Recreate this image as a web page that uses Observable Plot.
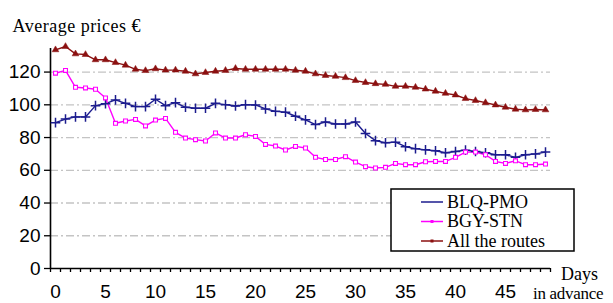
<!DOCTYPE html>
<html><head><meta charset="utf-8">
<script src="https://cdn.jsdelivr.net/npm/d3@7"></script>
<script src="https://cdn.jsdelivr.net/npm/@observablehq/plot@0.6"></script>
<style>
body{margin:0;background:#fff;}
#wrap{position:relative;width:613px;height:303px;overflow:hidden;background:#fff;}
#wrap svg{position:absolute;left:0;top:0;}
</style></head><body><div id="wrap"></div>
<script>
const days = [0,1,2,3,4,5,6,7,8,9,10,11,12,13,14,15,16,17,18,19,20,21,22,23,24,25,26,27,28,29,30,31,32,33,34,35,36,37,38,39,40,41,42,43,44,45,46,47,48,49];
const blqPmo = [89.1,91.3,92.6,92.6,99.5,100.7,103,100.9,98.9,98.9,103.4,99.5,101.3,98.5,97.9,97.9,100.9,100.1,99.3,100.1,99.9,97.5,96,95.5,93,90.8,87.9,89.5,88.3,88.3,89.5,82.5,78.1,76.8,77.2,74.4,73.2,72.5,71.9,70.7,71.5,72.3,71.5,70.7,69.5,69.5,67.9,69.5,70,71.1];
const bgyStn = [119.3,121,110.7,110.3,109.5,104.2,88.7,90.1,91.1,87.1,90.7,91.7,83.2,79.7,78.7,77.9,82.8,79.7,79.7,81.7,80.7,75.8,74.8,72.4,74.6,73.6,67.9,66.6,66.6,68.3,65,62.2,61.4,61.8,64.2,63.4,63.4,65.2,65.4,65.4,67.9,71.1,71.1,69.5,65.4,64.2,65.8,63.4,63.4,63.8];
const allRoutes = [133.6,135.6,131.1,130.7,127.5,127.5,125.8,124.2,121.7,120.9,122,121.2,121.2,120.5,118.9,119.7,120.5,121,122.2,121.7,121.7,121.7,121.7,121.7,121.1,120.5,118.9,117.9,117.4,116.6,114.8,113.6,112.9,112.5,111.3,111.3,110.7,109.6,108.3,107,106,103.8,102.6,101.3,99.9,98.5,97.3,96.9,97.1,96.9];
const seriesNames = ["BLQ-PMO","BGY-STN","All the routes"];
const seriesColors = ["#1c1c8e","#ff00ff","#8b1010"];
const yTickValues = [0,20,40,60,80,100,120];
const gridValues = [20,40,60,80,100,120];
const xLabelValues = [0,5,10,15,20,25,30,35,40,45];
const xBoundaryValues = [-0.5,0.5,1.5,2.5,3.5,4.5,5.5,6.5,7.5,8.5,9.5,10.5,11.5,12.5,13.5,14.5,15.5,16.5,17.5,18.5,19.5,20.5,21.5,22.5,23.5,24.5,25.5,26.5,27.5,28.5,29.5,30.5,31.5,32.5,33.5,34.5,35.5,36.5,37.5,38.5,39.5,40.5,41.5,42.5,43.5,44.5,45.5,46.5,47.5,48.5,49.5];
const titleText = "Average prices €";
const xTitle1 = "Days";
const xTitle2 = "in advance";

const seriesValues = [blqPmo, bgyStn, allRoutes];
const rows = [];
seriesNames.forEach((name, si) => seriesValues[si].forEach((v, i) => rows.push({day: days[i], price: v, series: name})));
const bySeries = name => rows.filter(r => r.series === name);

const chart = Plot.plot({
  width: 613, height: 303,
  marginLeft: 50, marginRight: 63, marginTop: 48, marginBottom: 35,
  x: {domain: [-0.5, 49.5], axis: null},
  y: {domain: [0, 134.4], axis: null},
  color: {domain: seriesNames, range: seriesColors},
  style: {fontFamily: "'Liberation Sans', Arial, sans-serif", fontSize: "19px", color: "#000", background: "transparent"},
  marks: [
    Plot.ruleY(gridValues, {stroke: "#c4c4c4", strokeWidth: 1.3, strokeDasharray: "8,3,2,3"}),
    Plot.axisY({ticks: yTickValues, tickSize: 6, tickPadding: 4, fontSize: 19, stroke: "#000", strokeWidth: 1.3, label: null}),
    Plot.axisX({ticks: xBoundaryValues, tickSize: 4, tickFormat: () => "", stroke: "#000", strokeWidth: 1.3, label: null}),
    Plot.axisX({ticks: xLabelValues, tickSize: 0, tickPadding: 16, fontSize: 19, label: null}),
    Plot.ruleX([-0.5], {stroke: "#000", strokeWidth: 1.6}),
    Plot.ruleY([0], {stroke: "#000", strokeWidth: 1.6}),
    Plot.line(rows, {x: "day", y: "price", z: "series", stroke: "series", strokeWidth: 1.4}),
    Plot.dot(bySeries("BLQ-PMO"), {x: "day", y: "price", symbol: "plus", r: 3.2, stroke: seriesColors[0], strokeWidth: 1.5}),
    Plot.dot(bySeries("BGY-STN"), {x: "day", y: "price", symbol: "square", r: 2.2, stroke: seriesColors[1], fill: "#fff", strokeWidth: 1.1}),
    Plot.dot(bySeries("All the routes"), {x: "day", y: "price", symbol: "triangle", r: 2.5, fill: seriesColors[2], stroke: seriesColors[2], strokeWidth: 0.5})
  ]
});
const wrap = document.getElementById("wrap");
wrap.appendChild(chart);

// overlay texts and legend
const ov = d3.select(wrap).append("svg").attr("width", 613).attr("height", 303)
  .style("font-family", "'Liberation Serif', 'Times New Roman', serif").style("font-size", "18px");
ov.append("text").attr("x", 12.5).attr("y", 31.5).attr("letter-spacing", "0.5px").text(titleText);
ov.append("text").attr("x", 561).attr("y", 279.5).text(xTitle1);
ov.append("text").attr("x", 533).attr("y", 299).style("font-size", "17px").attr("letter-spacing", "-0.3px").text(xTitle2);

const lg = ov.append("g").attr("transform", "translate(391,189)");
lg.append("rect").attr("width", 183).attr("height", 62).attr("fill", "#fff").attr("stroke", "#000").attr("stroke-width", 1.5);
seriesNames.forEach((name, i) => {
  const cy = 13 + i * 19.5;
  lg.append("line").attr("x1", 30).attr("x2", 52).attr("y1", cy).attr("y2", cy).attr("stroke", seriesColors[i]).attr("stroke-width", 1.5);
  if (i === 0) {
    lg.append("path").attr("d", d3.symbol(d3.symbolPlus, 30)()).attr("transform", `translate(41,${cy})`).attr("fill", seriesColors[i]);
  } else {
    lg.append("rect").attr("x", 39.5).attr("y", cy - 1.5).attr("width", 3).attr("height", 3).attr("fill", seriesColors[i]);
  }
  lg.append("text").attr("x", 56).attr("y", cy + 5.7).text(name);
});
</script></body></html>
